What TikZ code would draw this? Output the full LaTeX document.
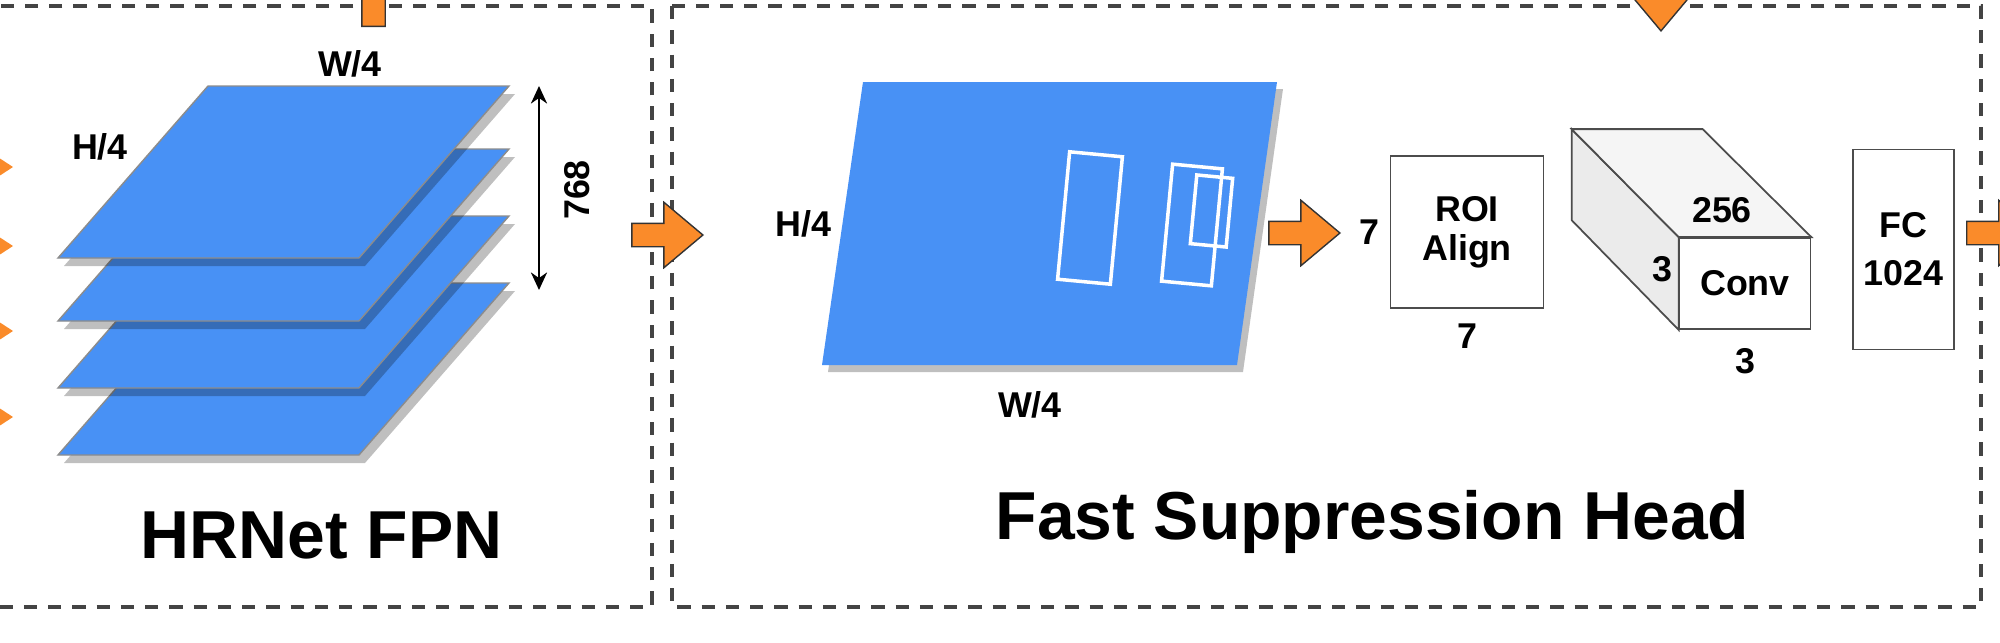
\documentclass[tikz,border=0pt]{standalone}
\usepackage{fontspec}
\setmainfont{Liberation Sans}
\usetikzlibrary{positioning, arrows.meta, shapes.arrows}
\definecolor{mapblue}{RGB}{72,145,245}
\definecolor{flowamber}{RGB}{250,139,42}
\definecolor{framegray}{RGB}{68,68,68}

\begin{document}
\begin{tikzpicture}[x=0.1mm, y=-0.1mm,
    lbl/.style={font=\fontsize{10.2}{12}\selectfont\bfseries, inner sep=0pt},
    title/.style={font=\fontsize{19.3}{22}\selectfont\bfseries, inner sep=0pt, anchor=base},
    dashbox/.style={draw=framegray, line width=1.1pt, dash pattern=on 3.8pt off 3.1pt},
    plane/.style={fill=mapblue, draw=black!45, line width=0.4pt},
    shade/.style={fill=black, fill opacity=0.25},
    blk/.style={single arrow, fill=flowamber, draw=black!80, line width=0.4pt,
                inner sep=1.1mm, minimum height=7.1mm, single arrow head extend=2.1mm,
                single arrow tip angle=80},
    box/.style={draw=black!70, line width=0.5pt, fill=white, inner sep=0pt, align=center,
                font=\fontsize{10.2}{11.1}\selectfont\bfseries},
    face/.style={draw=black!70, line width=0.5pt},
    proposal/.style={draw=white, line width=1pt, inner sep=0pt},
    dim/.style={{Stealth[length=5pt, width=4.6pt, inset=1.6pt]}-{Stealth[length=5pt, width=4.6pt, inset=1.6pt]},
                line width=0.6pt},
  ]
  \clip (0,0) rectangle (2000,643);

  % stage frames
  \draw[dashbox] (-30,6) rectangle (652,607);
  \draw[dashbox] (672,6) rectangle (1981,607);

  % HRNet FPN: stacked maps, bottom one first
  \foreach \t in {283,216,149,86} {
    \fill[shade, shift={(6,8)}] (208,\t) -- ++(301,0) -- ++(-150,172) -- ++(-301,0) -- cycle;
    \draw[plane] (208,\t) -- ++(301,0) -- ++(-150,172) -- ++(-301,0) -- cycle;
  }
  \foreach \y in {167,246,331,417}
    \fill[flowamber] (-10,\y-15) -- (13,\y) -- (-10,\y+15) -- cycle;
  \node[lbl] (fpnw) at (350,64) {W/4};
  \node[lbl] (fpnh) at (100,147) {H/4};
  \coordinate (dimtop) at (539,86);
  \coordinate (dimbot) at (539,290);
  \draw[dim] (dimtop) -- (dimbot);
  \node[lbl, rotate=90] (fpnc) at (577,190) {768};
  \node[title] (fpnname) at (321.5,558) {HRNet FPN};

  % fast suppression head
  \fill[shade, shift={(6,7)}] (863,82) -- (1277,82) -- (1237,365) -- (822,365) -- cycle;
  \fill[mapblue] (863,82) -- (1277,82) -- (1237,365) -- (822,365) -- cycle;
  \node[proposal, minimum width=5.3mm, minimum height=12.8mm, rotate=-5.4] (prop1) at (1090,218) {};
  \node[proposal, minimum width=5.0mm, minimum height=11.75mm, rotate=-5.4] (prop2) at (1192,225) {};
  \node[proposal, minimum width=3.6mm, minimum height=6.9mm, rotate=-5.4] (prop3) at (1211.5,211) {};
  \node[lbl] (maph) at (803.5,224) {H/4};
  \node[lbl] (mapw) at (1030,405) {W/4};

  \node[box, minimum width=15.3mm, minimum height=15.2mm] (roi) at (1467,232) {ROI\\Align};
  \node[lbl, left=0.9mm of roi] (roiw) {7};
  \node[lbl, below=1.4mm of roi] (roih) {7};

  \node[box, minimum width=13.1mm, minimum height=9.1mm] (conv) at (1745,283.5) {Conv};
  \filldraw[face, fill=black!8] (conv.north west) -- ++(-107,-108) -- ++(0,91) -- (conv.south west) -- cycle;
  \filldraw[face, fill=black!4] (conv.north west) -- ++(-107,-108) -- ++(131,0) -- (conv.north east) -- cycle;
  \node[lbl] (convc) at (1722,210.5) {256};
  \node[lbl] (convk) at (1662.5,269.5) {3};
  \node[lbl, below=1.8mm of conv] (convw) {3};

  \node[box, minimum width=10.1mm, minimum height=20mm,
        font=\fontsize{10.2}{13.7}\selectfont\bfseries] (fc) at (1903.5,249.5) {FC\\1024};
  \node[title] (headname) at (1372.5,539) {Fast Suppression Head};

  % block arrows between stages
  \node[blk, anchor=tail, shape border rotate=90] (fpnup) at (373.5,27) {};
  \node[blk, anchor=tip] (fpnout) at (704,235) {};
  \node[blk, anchor=tip] (mapout) at (1341,233) {};
  \node[blk, anchor=tip, shape border rotate=270] (headin) at (1661,32) {};
  \node[blk, anchor=tail] (fcout) at (1966,233) {};
\end{tikzpicture}
\end{document}
